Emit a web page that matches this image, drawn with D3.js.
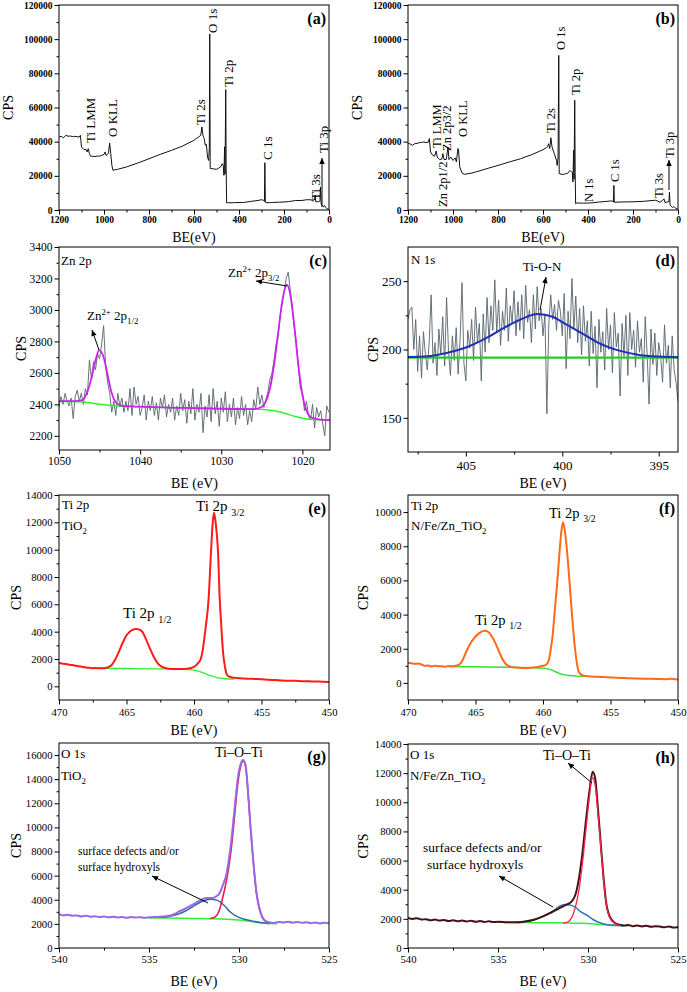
<!DOCTYPE html>
<html><head><meta charset="utf-8">
<script src="https://cdn.jsdelivr.net/npm/d3@7"></script>
<style>body{margin:0;background:#fff}svg{display:block}svg text{font-family:"Liberation Serif",serif}</style>
</head><body><svg id="c" width="687" height="992"></svg>
<script>
// ---------------- DATA ----------------
const surveyA = [[1200,42700],[1190,43100],[1180,42300],[1170,43700],[1160,43200],[1150,43300],[1140,43000],[1130,43100],[1120,42900],[1110,42700],[1105,43700],[1100,36900],[1090,35500],[1080,35400],[1075,34000],[1070,35900],[1065,33000],[1060,31500],[1050,31400],[1040,31300],[1030,31600],[1020,31500],[1010,32000],[1000,32500],[995,34000],[990,31800],[985,32500],[980,33400],[975,39200],[970,33000],[965,26100],[960,23200],[950,23600],[940,23800],[920,24500],[900,25200],[850,27500],[800,30000],[750,32600],[700,34900],[650,37500],[600,40800],[590,41800],[580,42700],[570,43700],[565,48600],[560,43500],[555,42000],[550,37900],[545,38500],[540,31000],[535,29000],[532,36000],[530,103000],[528,24200],[525,24300],[520,24200],[510,24000],[500,23800],[490,24500],[480,25500],[475,27100],[470,26000],[467,20300],[464,37000],[462,21000],[459,70500],[457,24000],[455,4100],[450,4300],[440,4200],[420,4300],[400,4400],[380,4400],[350,5000],[320,5500],[300,6000],[293,5800],[290,5500],[287,5000],[285,27700],[283,4600],[280,4300],[260,4300],[250,4400],[220,4600],[200,4700],[180,4900],[150,5500],[120,5600],[100,6000],[80,6000],[70,5200],[65,5800],[62,8600],[58,4700],[50,5000],[45,4800],[40,5400],[38,13500],[35,3500],[30,2400],[25,1800],[20,2700],[15,1500],[10,900],[5,600],[0,300]];
const surveyB = [[1200,39200],[1190,38600],[1180,37900],[1170,38800],[1160,39000],[1150,39400],[1140,39600],[1130,39800],[1120,39500],[1110,39700],[1105,41800],[1100,34000],[1090,32000],[1082,31500],[1075,34500],[1070,31000],[1060,29500],[1050,29800],[1045,33000],[1040,29500],[1030,29600],[1022,36900],[1018,29500],[1010,31000],[1000,29000],[990,30500],[985,28100],[978,36000],[975,34500],[970,25200],[960,21700],[950,20900],[920,21500],[900,22200],[850,24200],[800,26100],[750,28100],[700,30000],[650,32400],[600,35300],[585,36500],[580,36900],[575,38800],[570,36000],[565,42300],[560,37000],[550,33000],[540,29000],[537,26100],[533,31000],[530,90500],[528,21300],[520,21000],[510,20800],[500,21200],[490,21500],[480,23200],[475,22500],[470,22000],[467,16400],[464,35000],[462,18000],[459,64200],[457,22000],[455,3700],[450,4100],[420,4000],[400,4100],[380,4200],[350,4700],[320,5000],[300,5300],[290,5200],[287,4600],[285,14400],[283,4500],[280,4600],[250,4700],[200,4800],[150,5100],[120,5500],[100,5700],[90,5200],[80,4500],[62,6500],[58,4400],[50,4600],[40,5000],[38,10500],[35,2800],[30,2300],[25,1400],[20,2000],[15,1700],[10,900],[5,700],[0,300]];

// Zn 2p raw counts, BE from 1050 eV in 0.25 eV steps
const cStart = 1050, cStep = 0.25;
const cRaw = [2380,2450,2400,2470,2420,2390,2440,2310,2450,2490,
 2420,2470,2400,2500,2460,2680,2560,2670,2620,2720,
 2690,2780,2900,2640,2540,2470,2350,2420,2330,2470,
 2390,2440,2350,2420,2360,2500,2330,2510,2400,2450,
 2330,2380,2460,2300,2420,2360,2450,2330,2410,2300,
 2440,2380,2460,2320,2400,2350,2440,2300,2390,2330,
 2470,2360,2430,2280,2420,2340,2500,2300,2400,2350,
 2470,2220,2390,2320,2460,2290,2500,2340,2420,2260,
 2440,2350,2480,2290,2400,2320,2440,2270,2380,2310,
 2450,2330,2400,2270,2360,2290,2430,2370,2510,2400,
 2460,2380,2430,2480,2560,2600,2680,2780,2830,2960,
 3040,3120,3200,3240,3130,3020,2880,2790,2640,2500,
 2480,2360,2420,2330,2300,2400,2250,2380,2320,2360,
 2280,2200,2390,2350];
const cEnv = [[1050,2420],[1048,2420],[1047.3,2425],[1047,2432],[1046.5,2480],[1046,2565],[1045.5,2680],[1045.05,2745],[1044.5,2700],[1044,2585],[1043.5,2470],[1043,2412],[1042.5,2395],[1042,2390],[1040,2385],[1035,2378],[1030,2372],[1026,2370],[1025,2385],[1024.5,2420],[1024,2500],[1023.5,2650],[1023,2850],[1022.5,3050],[1021.9,3160],[1021.5,3100],[1021,2900],[1020.5,2650],[1020,2460],[1019.5,2360],[1019,2320],[1018,2305],[1016.6,2300]];
const cBg = [[1050,2420],[1047,2415],[1045,2400],[1043,2390],[1040,2385],[1035,2378],[1030,2372],[1026,2370],[1024.5,2366],[1023,2355],[1022,2340],[1021,2325],[1020,2312],[1019,2305],[1016.6,2300]];

// N 1s raw counts, BE from 408 eV in 0.1 eV steps
const dStart = 408, dStep = 0.1;
const dRaw = [222,229,231,200,222,184,210,179,213,197,
 185,206,240,190,205,181,215,196,224,188,
 238,199,181,210,192,216,182,207,249,190,
 177,214,201,222,192,231,205,219,177,226,
 198,238,205,232,214,251,212,236,203,228,
 214,245,206,232,219,243,210,235,214,240,
 208,247,220,229,205,240,215,246,221,230,
 210,226,153,218,240,222,233,214,236,228,
 210,241,186,228,208,252,215,239,205,230,
 196,232,206,221,188,228,197,217,172,222,
 198,213,185,230,200,218,183,227,202,212,
 166,219,195,225,181,227,200,214,187,221,
 198,208,176,224,196,160,215,189,212,181,
 205,195,176,218,190,203,172,210,185,176,
 162];
const dFit = [[408,194.5],[407,195],[406,197.5],[405,201.5],[404,208],[403,216],[402,223],[401.3,226],[400.5,224],[400,220],[399,212],[398,204],[397,199],[396,196],[395,194.8],[394,194.3]];
const dBg = [[408,194],[394,194]];

// Ti 2p, TiO2
const eFit = [[470,1700],[469.75,1660],[469.5,1640],[469.25,1580],[469,1560],[468.75,1510],[468.5,1470],[468.25,1420],[468,1380],[467.75,1360],[467.5,1330],[467.25,1340],[467,1320],[466.75,1320],[466.5,1360],[466.3,1430],[466.1,1560],[465.9,1850],[465.6,2450],[465.3,3150],[465,3740],[464.6,4120],[464.27,4200],[463.9,4080],[463.6,3550],[463.3,2850],[463,2200],[462.7,1700],[462.4,1440],[462,1310],[461.5,1260],[461,1260],[460.5,1290],[460,1420],[459.7,1700],[459.5,2000],[459.38,2500],[459.15,4200],[458.91,6500],[458.74,9850],[458.62,11900],[458.52,12700],[458.4,12000],[458.3,11000],[458.22,9850],[458.1,6500],[457.97,4300],[457.85,2500],[457.7,1400],[457.53,800],[457.3,680],[457,620],[456.7,600],[456.4,580],[456,560],[455.5,540],[455,520],[454.5,480],[454,460],[453.5,430],[453,410],[452.5,400],[452,380],[451.5,370],[451,350],[450.5,340],[450,320]];
const eBg = [[467,1320],[465,1300],[463,1280],[461,1250],[460.3,1220],[459.8,1150],[459.3,980],[458.8,780],[458.3,640],[457.8,570],[457.3,540],[457,530]];

// Ti 2p, N/Fe/Zn_TiO2
const fFit = [[470,1180],[469.75,1150],[469.5,1120],[469.25,1130],[469,1080],[468.75,1000],[468.5,1020],[468.25,960],[468,1010],[467.75,970],[467.5,980],[467.25,950],[467,990],[466.75,970],[466.5,1000],[466.3,1040],[466.1,1150],[465.9,1430],[465.68,1840],[465.4,2280],[465.1,2620],[464.75,2900],[464.32,3050],[464,2950],[463.73,2640],[463.45,2200],[463.2,1720],[462.95,1320],[462.7,1060],[462.4,950],[462,900],[461.5,880],[461,890],[460.5,920],[460,1000],[459.8,1050],[459.58,1300],[459.42,2000],[459.28,2820],[459.12,4300],[458.96,5750],[458.77,7710],[458.65,8800],[458.52,9400],[458.38,8900],[458.22,7710],[458.02,5750],[457.88,4300],[457.73,2820],[457.55,1500],[457.36,665],[457.1,450],[456.8,400],[456.5,380],[456,360],[455.5,340],[455,320],[454.5,300],[454,290],[453.5,270],[453,260],[452.5,250],[452,240],[451.5,230],[451,220],[450.5,240],[450.2,210],[450,200]];
const fBg = [[467,960],[465,945],[463,920],[461,890],[460.2,870],[459.6,820],[459.2,700],[458.8,560],[458.4,470],[458,430],[457.5,400],[457,380]];

// O 1s, TiO2
const gEnv = [[540,2800],[539.75,2700],[539.5,2760],[539.25,2680],[539,2700],[538.75,2620],[538.5,2680],[538.25,2600],[538,2640],[537.75,2560],[537.5,2620],[537.25,2540],[537,2600],[536.75,2530],[536.5,2580],[536.25,2500],[536,2570],[535.75,2520],[535.5,2560],[535.25,2500],[534.96,2550],[534.5,2580],[534.04,2630],[533.6,2800],[533.3,3050],[533,3250],[532.74,3460],[532.45,3700],[532.19,3930],[531.81,4150],[531.44,4150],[531.25,4300],[531.07,4570],[530.9,5200],[530.7,6100],[530.43,8860],[530.24,11630],[530.06,14130],[529.9,15300],[529.78,15600],[529.64,15200],[529.5,13020],[529.37,10250],[529.22,7480],[529.04,4710],[528.9,3500],[528.76,2770],[528.48,2200],[528.11,2080],[527.75,2150],[527.5,2120],[527.25,2180],[527,2100],[526.75,2160],[526.5,2090],[526.25,2130],[526,2060],[525.75,2110],[525.5,2040],[525.25,2090],[525,2050]];
const gRed = [[531.6,2450],[531.3,2600],[531.1,3100],[530.95,3900],[530.8,4850],[530.6,6400],[530.43,8200],[530.24,11000],[530.06,13700],[529.9,15100],[529.78,15500],[529.64,15100],[529.5,12900],[529.37,10150],[529.22,7400],[529.04,4650],[528.9,3450],[528.76,2740],[528.48,2180],[528.2,2080]];
const gBlue = [[534.5,2540],[534,2600],[533.5,2750],[533,3050],[532.5,3500],[532,3900],[531.6,4050],[531.2,3950],[530.8,3500],[530.5,3000],[530.1,2600],[529.7,2380],[529.3,2250],[528.8,2110],[528.3,2040]];
const gBg = [[535,2490],[534,2480],[533,2460],[532,2440],[531,2400],[530.5,2370],[530,2320],[529.5,2240],[529,2130],[528.6,2060],[528.2,2030],[527.9,2020]];

// O 1s, N/Fe/Zn_TiO2
const hEnv = [[540,2080],[539.75,1990],[539.5,2050],[539.25,1950],[539,1980],[538.75,1900],[538.5,1950],[538.25,1880],[538,1920],[537.75,1850],[537.5,1900],[537.25,1840],[537,1880],[536.75,1820],[536.5,1870],[536.25,1800],[536,1850],[535.75,1790],[535.5,1830],[535.25,1780],[535,1800],[534.5,1770],[534,1760],[533.5,1820],[533,1940],[532.5,2170],[532,2470],[531.5,2790],[531.2,2970],[530.9,3200],[530.7,3650],[530.5,4800],[530.3,6620],[530.1,8900],[529.9,10960],[529.74,12100],[529.6,11640],[529.45,9590],[529.3,7300],[529.15,5020],[529,3200],[528.8,2170],[528.5,1710],[528.25,1600],[528,1550],[527.75,1580],[527.5,1500],[527.25,1540],[527,1480],[526.75,1530],[526.5,1460],[526.25,1500],[526,1470],[525.75,1420],[525.5,1480],[525.25,1400],[525,1440]];
const hRed = [[531.4,1700],[531.1,1800],[530.9,2100],[530.7,2800],[530.5,4000],[530.3,5900],[530.1,8300],[529.9,10600],[529.78,11700],[529.62,11300],[529.45,9300],[529.3,7100],[529.15,4900],[529,3100],[528.8,2100],[528.5,1680],[528.2,1560]];
const hBlue = [[534,1760],[533.5,1820],[533,1940],[532.5,2170],[532,2470],[531.6,2850],[531.3,2990],[531,2950],[530.7,2800],[530.43,2510],[530,2200],[529.7,1940],[529.3,1720],[528.9,1600],[528.5,1560],[528,1530]];
const hBg = [[535,1760],[534,1750],[533,1740],[532,1730],[531,1710],[530.3,1690],[529.8,1660],[529.3,1610],[528.8,1560],[528.3,1540],[527.8,1530]];

// ticks
const surveyXTicks = [1200,1000,800,600,400,200,0];
const surveyXMinor = [1100,900,700,500,300,100];
const surveyYTicks = [0,20000,40000,60000,80000,100000,120000];
const surveyYMinor = [10000,30000,50000,70000,90000,110000];
const cXTicks = [1050,1040,1030,1020], cXMinor = [1045,1035,1025];
const cYTicks = [2200,2400,2600,2800,3000,3200,3400], cYMinor = [2300,2500,2700,2900,3100,3300];
const dXTicks = [405,400,395], dXMinor = [407.5,402.5,397.5];
const dYTicks = [150,200,250], dYMinor = [175,225];
const tiXTicks = [470,465,460,455,450], tiXMinor = [467.5,462.5,457.5,452.5];
const eYTicks = [0,2000,4000,6000,8000,10000,12000,14000], eYMinor = [1000,3000,5000,7000,9000,11000,13000];
const fYTicks = [0,2000,4000,6000,8000,10000], fYMinor = [1000,3000,5000,7000,9000];
const oXTicks = [540,535,530,525], oXMinor = [537.5,532.5,527.5];
const gYTicks = [0,2000,4000,6000,8000,10000,12000,14000,16000], gYMinor = [1000,3000,5000,7000,9000,11000,13000,15000];
const hYTicks = [0,2000,4000,6000,8000,10000,12000,14000], hYMinor = [1000,3000,5000,7000,9000,11000,13000];

// ---------------- DRAWING ----------------
const SERIF = "Liberation Serif, serif";
const svg = d3.select("#c");
const defs = svg.append("defs");
defs.append("marker").attr("id","arr").attr("viewBox","0 0 10 10").attr("refX",10).attr("refY",5)
  .attr("markerWidth",7).attr("markerHeight",6).attr("markerUnits","userSpaceOnUse").attr("orient","auto")
  .append("path").attr("d","M0,0.5 L10,5 L0,9.5 z").attr("fill","#000");

const rawPts = (arr, start, step) => arr.map((v,i)=>[start - i*step, v]);

function panel(o){
  const x = d3.scaleLinear().domain(o.xd).range([o.l,o.r]);
  const y = d3.scaleLinear().domain(o.yd).range([o.b,o.t]);
  const g = svg.append("g");
  defs.append("clipPath").attr("id","cp"+o.id).append("rect")
    .attr("x",o.l).attr("y",o.t).attr("width",o.r-o.l).attr("height",o.b-o.t);
  const sty = s => {
    s.attr("font-family",SERIF);
    s.select(".domain").remove();
    s.selectAll("line").attr("stroke","#000");
    s.selectAll("text").attr("fill","#000").attr("font-size",o.fs).attr("font-weight",o.fw||"normal").attr("font-family",SERIF);
  };
  g.append("g").attr("transform",`translate(0,${o.b})`).call(d3.axisBottom(x).tickValues(o.xm).tickSize(2.5).tickFormat("")).call(sty);
  g.append("g").attr("transform",`translate(0,${o.b})`).call(d3.axisBottom(x).tickValues(o.xt).tickSize(4.5).tickPadding(o.xpad).tickFormat(d3.format("d"))).call(sty);
  g.append("g").attr("transform",`translate(${o.l},0)`).call(d3.axisLeft(y).tickValues(o.ym).tickSize(2.5).tickFormat("")).call(sty);
  g.append("g").attr("transform",`translate(${o.l},0)`).call(d3.axisLeft(y).tickValues(o.yt).tickSize(4.5).tickPadding(2).tickFormat(d3.format("d"))).call(sty);
  const plot = g.append("g").attr("clip-path",`url(#cp${o.id})`);
  o.series.forEach(s=>{
    plot.append("path").datum(s.data).attr("fill","none").attr("stroke",s.color).attr("stroke-width",s.w)
      .attr("stroke-linejoin","round")
      .attr("d", d3.line().x(d=>x(d[0])).y(d=>y(d[1])).curve(s.smooth?d3.curveMonotoneX:d3.curveLinear));
  });
  g.append("rect").attr("x",o.l).attr("y",o.t).attr("width",o.r-o.l).attr("height",o.b-o.t)
    .attr("fill","none").attr("stroke","#000").attr("stroke-width",1);
  g.append("text").attr("transform",`translate(${o.ylx},${(o.t+o.b)/2}) rotate(-90)`)
    .attr("text-anchor","middle").attr("dy","0.35em").attr("font-size",14).attr("font-family",SERIF).text("CPS");
  g.append("text").attr("x",(o.l+o.r)/2).attr("y",o.xly).attr("text-anchor","middle")
    .attr("font-size",14).attr("font-family",SERIF).text(o.xlabel);
  g.append("text").attr("x",o.r-3).attr("y",o.t+19).attr("text-anchor","end").attr("font-size",16)
    .attr("font-weight","bold").attr("font-family",SERIF).text(o.letter);
  return {x,y,g};
}

function rich(x, y, parts, fs){
  const t = svg.append("text").attr("x",x).attr("y",y).attr("font-size",fs).attr("font-family",SERIF).style("white-space","pre");
  let cur = 0;
  parts.forEach(p=>{
    const [txt,type] = Array.isArray(p)?p:[p,""];
    const target = type==="sup" ? -0.42*fs : type==="sub" ? 0.3*fs : 0;
    t.append("tspan").attr("dy",target-cur).attr("font-size", type ? fs*0.68 : fs).text(txt);
    cur = target;
  });
  return t;
}
function txt(x, y, s, fs, anchor){
  svg.append("text").attr("x",x).attr("y",y).attr("font-size",fs).attr("font-family",SERIF)
    .attr("text-anchor",anchor||"start").text(s);
}
function vlabel(cx, bottom, s, fs){
  svg.append("text").attr("transform",`translate(${cx},${bottom}) rotate(-90)`)
    .attr("dy","0.35em").attr("font-size",fs).attr("font-family",SERIF).style("white-space","pre").text(s);
}
function arrow(x1,y1,x2,y2){
  svg.append("line").attr("x1",x1).attr("y1",y1).attr("x2",x2).attr("y2",y2)
    .attr("stroke","#000").attr("stroke-width",1).attr("marker-end","url(#arr)");
}

// (a)
panel({id:"a",l:59,r:329,t:5,b:210,xd:[1200,0],yd:[0,120000],xt:surveyXTicks,xm:surveyXMinor,yt:surveyYTicks,ym:surveyYMinor,
  fs:9.5,fw:"bold",xpad:2,ylx:8,xly:242,xlabel:"BE(eV)",letter:"(a)",
  series:[{data:surveyA,color:"#111",w:1}]});
[["Ti LMM",90,143],["O KLL",112,137],["Ti 2s",200,125],["O 1s",212,33],["Ti 2p",228,87],["C 1s",267,160],["Ti 3s",315,200],["Ti 3p",323,153]]
  .forEach(d=>vlabel(d[1],d[2],d[0],13));
arrow(322,207,322,158);

// (b)
panel({id:"b",l:408,r:678,t:5,b:210,xd:[1200,0],yd:[0,120000],xt:surveyXTicks,xm:surveyXMinor,yt:surveyYTicks,ym:surveyYMinor,
  fs:9.5,fw:"bold",xpad:2,ylx:357,xly:242,xlabel:"BE(eV)",letter:"(b)",
  series:[{data:surveyB,color:"#111",w:1}]});
[["Ti LMM",437,148],["Zn 2p3/2",447,151],["O KLL",463,137],["Zn 2p1/2",443,207],["Ti 2s",551,133],["O 1s",561,50],["Ti 2p",576,95],["N 1s",589,202],["C 1s",615,182],["Ti 3s",659,198],["Ti 3p",670,158]]
  .forEach(d=>vlabel(d[1],d[2],d[0],12.5));
arrow(669,190,669,160);

// (c)
panel({id:"c",l:59,r:330,t:247,b:450,xd:[1050,1016.6],yd:[2110,3400],xt:cXTicks,xm:cXMinor,yt:cYTicks,ym:cYMinor,
  fs:11.5,xpad:2.5,ylx:21,xly:488,xlabel:"BE (eV)",letter:"(c)",
  series:[{data:rawPts(cRaw,cStart,cStep),color:"#56636b",w:0.9},{data:cBg,color:"#33ee33",w:1.5,smooth:true},{data:cEnv,color:"#cc22ee",w:1.8,smooth:true}]});
txt(61,265,"Zn 2p",13);
rich(87,320,["Zn",["2+","sup"]," 2p",["1/2","sub"]],13);
rich(228,277,["Zn",["2+","sup"]," 2p",["3/2","sub"]],13);
arrow(99,350,92,330);
arrow(287,286,256,281);

// (d)
panel({id:"d",l:408,r:678,t:247,b:452,xd:[408,394],yd:[125,275],xt:dXTicks,xm:dXMinor,yt:dYTicks,ym:dYMinor,
  fs:13,xpad:4,ylx:373,xly:488,xlabel:"BE (eV)",letter:"(d)",
  series:[{data:rawPts(dRaw,dStart,dStep),color:"#56636b",w:0.9},{data:dBg,color:"#22cc22",w:2.2},{data:dFit,color:"#1f2fb8",w:2,smooth:true}]});
txt(411,264,"N 1s",13);
txt(542,271,"Ti-O-N",13,"middle");
arrow(540,310,546,277);

// (e)
panel({id:"e",l:59,r:329,t:495,b:700,xd:[470,450],yd:[-1000,14000],xt:tiXTicks,xm:tiXMinor,yt:eYTicks,ym:eYMinor,
  fs:10.7,xpad:4,ylx:16.5,xly:735,xlabel:"BE (eV)",letter:"(e)",
  series:[{data:eBg,color:"#33ee33",w:1.4,smooth:true},{data:eFit,color:"#ff1a1a",w:2,smooth:true}]});
txt(62,509,"Ti 2p",13);
rich(62,530,["TiO",["2","sub"]],13);
rich(196,511,["Ti 2p ",["3/2","sub"]],15);
rich(123,618,["Ti 2p ",["1/2","sub"]],15);

// (f)
panel({id:"f",l:408,r:678,t:495,b:700,xd:[470,450],yd:[-1000,11000],xt:tiXTicks,xm:tiXMinor,yt:fYTicks,ym:fYMinor,
  fs:10.7,xpad:4,ylx:363,xly:735,xlabel:"BE (eV)",letter:"(f)",
  series:[{data:fBg,color:"#33dd33",w:1.4,smooth:true},{data:fFit,color:"#ff6a1a",w:2,smooth:true}]});
txt(411,510,"Ti 2p",13);
rich(411,530,["N/Fe/Zn_TiO",["2","sub"]],13);
rich(549,518,["Ti 2p ",["3/2","sub"]],14.5);
rich(475,625,["Ti 2p ",["1/2","sub"]],14.5);

// (g)
panel({id:"g",l:59,r:329,t:743,b:948,xd:[540,525],yd:[0,17000],xt:oXTicks,xm:oXMinor,yt:gYTicks,ym:gYMinor,
  fs:10.7,xpad:3,ylx:16.5,xly:986,xlabel:"BE (eV)",letter:"(g)",
  series:[{data:gBg,color:"#33ee33",w:1.5,smooth:true},{data:gBlue,color:"#2f6aa6",w:1.5,smooth:true},{data:gRed,color:"#ee1144",w:1.5,smooth:true},{data:gEnv,color:"#9966e6",w:2,smooth:true}]});
txt(61,758,"O 1s",13);
rich(61,780,["TiO",["2","sub"]],13);
txt(215,757,"Ti–O–Ti",14);
txt(78,855,"surface defects and/or",11.5);
txt(78,871,"surface hydroxyls",11.5);
arrow(208,903,152,876);

// (h)
panel({id:"h",l:408,r:678,t:744,b:948,xd:[540,525],yd:[0,14000],xt:oXTicks,xm:oXMinor,yt:hYTicks,ym:hYMinor,
  fs:10.7,xpad:3,ylx:363,xly:986,xlabel:"BE (eV)",letter:"(h)",
  series:[{data:hBg,color:"#33ee33",w:1.5,smooth:true},{data:hBlue,color:"#3a74b8",w:1.6,smooth:true},{data:hEnv,color:"#4a0e18",w:2,smooth:true},{data:hRed,color:"#ff2244",w:1.3,smooth:true}]});
txt(410,759,"O 1s",13);
rich(410,780,["N/Fe/Zn_TiO",["2","sub"]],13);
txt(543,760,"Ti–O–Ti",14);
txt(423,852,"surface defects and/or",13.5);
txt(427,869,"surface hydroxyls",13.5);
arrow(553,907,499,876);
arrow(592,783,568,763);
</script></body></html>
